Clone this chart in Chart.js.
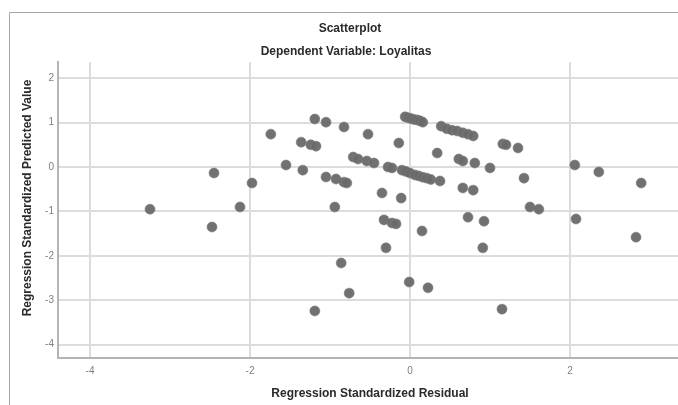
<!DOCTYPE html>
<html>
<head>
<meta charset="utf-8">
<script src="https://cdn.jsdelivr.net/npm/chart.js@4.4.1/dist/chart.umd.min.js"></script>
<style>
  body { margin: 0; background: #fff; }
  #chart { display: block; }
</style>
</head>
<body>
<canvas id="chart" width="678" height="405"></canvas>
<script>
// data
const residual = [
  -3.25, -2.475, -2.45, -2.125, -1.975, -1.74, -1.55, -1.34, -1.36, -1.24, -1.175,
  -1.19, -1.05, -0.825, -0.525, -1.05, -0.925, -0.825, -0.79, -0.94,
  -0.71, -0.65, -0.54, -0.45, -0.35, -0.325, -0.225, -0.175, -0.275, -0.225, -0.14,
  -0.86, -0.76, -1.19, -0.30,
  -0.06, -0.025, 0.0125, 0.05, 0.09, 0.125, 0.16,
  0.39, 0.46, 0.525, 0.59, 0.66, 0.725, 0.79,
  1.16, 1.2, 1.35, 0.34, 0.61, 0.66, 0.81, 1.0, 2.06, 2.36, 2.89,
  -0.1, -0.05, 0.0, 0.0625, 0.11, 0.16, 0.21, 0.26, 0.375,
  1.425, -0.11, 0.66, 0.79, 1.5, 1.61, 0.725, 0.925, 2.075, 0.15, 0.91,
  -0.01, 0.225, 1.15, 2.825
];
const predicted = [
  -0.95, -1.35, -0.135, -0.90, -0.36, 0.74, 0.045, -0.07, 0.56, 0.50, 0.47,
  1.08, 1.01, 0.90, 0.74, -0.225, -0.27, -0.34, -0.36, -0.90,
  0.225, 0.18, 0.135, 0.09, -0.585, -1.19, -1.26, -1.28, 0.0, -0.02, 0.54,
  -2.16, -2.84, -3.24, -1.82,
  1.13, 1.11, 1.09, 1.07, 1.06, 1.04, 1.01,
  0.92, 0.86, 0.83, 0.81, 0.77, 0.74, 0.70,
  0.52, 0.50, 0.43, 0.315, 0.18, 0.135, 0.09, -0.02, 0.045, -0.11, -0.36,
  -0.07, -0.10, -0.135, -0.18, -0.20, -0.23, -0.25, -0.28, -0.315,
  -0.25, -0.70, -0.47, -0.52, -0.90, -0.95, -1.13, -1.22, -1.17, -1.44, -1.82,
  -2.59, -2.72, -3.20, -1.58
];
const xTicks = [-4, -2, 0, 2];
const yTicks = [2, 1, 0, -1, -2, -3, -4];

const points = residual.map((v, i) => ({ x: v, y: predicted[i] }));

// titles and frame
const decor = {
  id: 'decor',
  beforeDraw(c) {
    const ctx = c.ctx;
    ctx.save();
    ctx.fillStyle = '#fff';
    ctx.fillRect(0, 0, c.width, c.height);
    ctx.strokeStyle = '#a8a8a8';
    ctx.lineWidth = 1;
    ctx.beginPath();
    ctx.moveTo(9.5, 405);
    ctx.lineTo(9.5, 12.5);
    ctx.lineTo(678, 12.5);
    ctx.stroke();
    ctx.restore();
  },
  afterDraw(c) {
    const ctx = c.ctx;
    ctx.save();
    ctx.fillStyle = '#2a2a2a';
    ctx.font = 'bold 12px "Liberation Sans", Arial, sans-serif';
    ctx.textAlign = 'center';
    ctx.textBaseline = 'middle';
    ctx.fillText('Scatterplot', 350, 29);
    ctx.fillText('Dependent Variable: Loyalitas', 346, 52);
    ctx.fillText('Regression Standardized Residual', 370, 394);
    ctx.translate(28, 198);
    ctx.rotate(-Math.PI / 2);
    ctx.fillText('Regression Standardized Predicted Value', 0, 0);
    ctx.restore();
  }
};

new Chart(document.getElementById('chart'), {
  type: 'scatter',
  data: {
    datasets: [{
      data: points,
      backgroundColor: 'rgba(105,105,105,0.95)',
      borderColor: 'rgba(125,125,125,0.6)',
      borderWidth: 1,
      pointRadius: 5,
      pointHoverRadius: 5
    }]
  },
  options: {
    responsive: false,
    animation: false,
    layout: { autoPadding: false, padding: { top: 62, right: 0, left: 0, bottom: 0 } },
    plugins: { legend: { display: false }, tooltip: { enabled: false } },
    scales: {
      x: {
        type: 'linear',
        min: -4.4,
        max: 3.35,
        afterBuildTicks: s => { s.ticks = xTicks.map(v => ({ value: v })); },
        afterFit: s => { s.height = 47; },
        grid: { color: '#dcdcdc', lineWidth: 2, drawTicks: false },
        border: { color: '#b4b4b4', width: 2 },
        ticks: {
          padding: 7,
          color: '#808080',
          font: { family: '"Liberation Sans", Arial, sans-serif', size: 10 }
        }
      },
      y: {
        type: 'linear',
        min: -4.3,
        max: 2.365,
        afterBuildTicks: s => { s.ticks = yTicks.map(v => ({ value: v })); },
        afterFit: s => { s.width = 58; },
        grid: { color: '#dcdcdc', lineWidth: 2, drawTicks: false },
        border: { color: '#b4b4b4', width: 2 },
        ticks: {
          padding: 4,
          color: '#808080',
          font: { family: '"Liberation Sans", Arial, sans-serif', size: 10 }
        }
      }
    }
  },
  plugins: [decor]
});
</script>
</body>
</html>
